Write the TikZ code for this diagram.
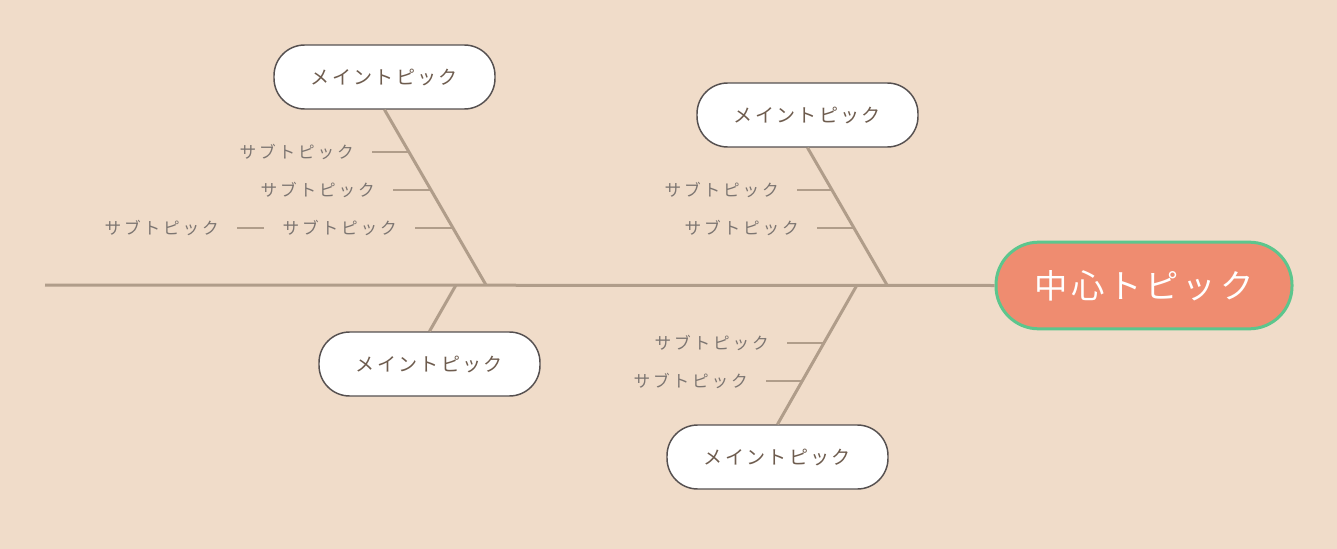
\documentclass[tikz,border=0pt]{standalone}
\usepackage{fontspec}
\newfontfamily\jp{Noto Sans CJK JP}
\usetikzlibrary{calc}
\definecolor{bg}{HTML}{F0DCC9}
\definecolor{bone}{HTML}{B09D8A}
\definecolor{boxline}{HTML}{555050}
\definecolor{maintext}{HTML}{6E5C4E}
\definecolor{subtext}{HTML}{7C7571}
\definecolor{cfill}{HTML}{EF8C70}
\definecolor{cline}{HTML}{5CC68D}
\newdimen\myls
\def\lsp#1{\lspA#1\relax\kern-\myls}
\def\lspA#1{\ifx#1\relax\else#1\kern\myls\expandafter\lspA\fi}
\def\lsmain{\myls 1.7pt\relax}
\def\lscen{\myls 2.8pt\relax}
\def\lssub{\myls 2.1pt\relax}
\tikzset{
  mainbox/.style={draw=boxline, line width=1.1pt, fill=white, rounded corners=23pt,
    minimum width=165.75pt, minimum height=48pt, inner sep=0pt, text=maintext,
    font=\jp\fontsize{14.3pt}{16pt}\selectfont\lsmain},
  centerbox/.style={draw=cline, line width=2.25pt, fill=cfill, rounded corners=32pt,
    minimum width=222pt, minimum height=65pt, inner sep=0pt, text=white,
    font=\jp\fontsize{25pt}{29pt}\selectfont\lscen},
  subtxt/.style={inner xsep=13.5pt, inner ysep=0pt, text=subtext, anchor=east,
    font=\jp\fontsize{12.5pt}{14pt}\selectfont\lssub},
  spine/.style={draw=bone, line width=2.25pt},
  twig/.style={draw=bone, line width=1.4pt},
}
\begin{document}
\begin{tikzpicture}[x=0.75pt,y=-0.75pt]
\fill[bg] (0,0) rectangle (1337,549);
\useasboundingbox (0,0) rectangle (1337,549);
% nodes
\node[centerbox] (c) at (1144,285.5) {\lsp{中心トピック}};
\node[mainbox] (m1) at (384.5,77) {\lsp{メイントピック}};
\node[mainbox] (m2) at (807.5,115) {\lsp{メイントピック}};
\node[mainbox] (m3) at (429.5,364) {\lsp{メイントピック}};
\node[mainbox] (m4) at (777.5,457) {\lsp{メイントピック}};
% spine
\coordinate (tail) at (45,285);
\draw[spine] (tail) -- (c.west);
\coordinate (b1) at (486,285);
\coordinate (b2) at (887,285);
\coordinate (b3) at (456,285);
\coordinate (b4) at (857,285);
\draw[spine] (m1.south) -- (b1);
\draw[spine] (m2.south) -- (b2);
\draw[spine] (m3.north) -- (b3);
\draw[spine] (m4.north) -- (b4);
% bone points
\coordinate (p11) at (409,152);
\coordinate (p12) at (431,190);
\coordinate (p13) at (453,228);
\coordinate (p21) at (833,190);
\coordinate (p22) at (854,228);
\coordinate (p41) at (824,343);
\coordinate (p42) at (803,381);
% sub topics
\node[subtxt] (s11) at (372,152) {\lsp{サブトピック}};
\node[subtxt] (s12) at (393,190) {\lsp{サブトピック}};
\node[subtxt] (s13) at (415,228) {\lsp{サブトピック}};
\node[subtxt] (s14) at (237,228) {\lsp{サブトピック}};
\node[subtxt] (s21) at (797,190) {\lsp{サブトピック}};
\node[subtxt] (s22) at (817,228) {\lsp{サブトピック}};
\node[subtxt] (s41) at (787,343) {\lsp{サブトピック}};
\node[subtxt] (s42) at (766,381) {\lsp{サブトピック}};
\draw[twig] (s11.east) -- (p11);
\draw[twig] (s12.east) -- (p12);
\draw[twig] (s13.east) -- (p13);
\draw[twig] (s14.east) -- (s13.west);
\draw[twig] (s21.east) -- (p21);
\draw[twig] (s22.east) -- (p22);
\draw[twig] (s41.east) -- (p41);
\draw[twig] (s42.east) -- (p42);
\end{tikzpicture}
\end{document}
